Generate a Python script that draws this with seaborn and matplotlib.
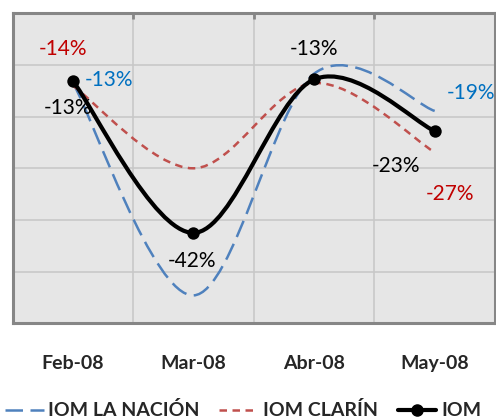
# Índice IOM por diario, feb-may 2008
import numpy as np
import pandas as pd
import matplotlib.pyplot as plt
import seaborn as sns
from matplotlib.path import Path
from matplotlib.patches import PathPatch
from matplotlib.lines import Line2D

# Datos (en %)
meses = ["Feb-08", "Mar-08", "Abr-08", "May-08"]
iom_la_nacion = [-13.4, -54.6, -11.7, -18.9]
iom_clarin = [-14.0, -30.0, -13.5, -26.9]
iom = [-13.1, -42.5, -12.8, -22.8]

etiquetas_nacion = ["-13%", "", "", "-19%"]
etiquetas_clarin = ["-14%", "", "", "-27%"]
etiquetas_iom = ["-13%", "-42%", "-13%", "-23%"]

sns.set_style("white")
plt.rcParams['font.family'] = ['Lato', 'DejaVu Sans']

AZUL = "#4f81bd"
ROJO = "#c0504d"
FONDO = "#e6e6e6"
BORDE = "#868686"


# Curva suavizada tipo Excel (Bezier de Catmull-Rom) a partir de los puntos
def trazo_suave(xs, ys):
    pts = list(zip(xs, ys))
    n = len(pts)
    verts = [pts[0]]
    codes = [Path.MOVETO]
    for i in range(n - 1):
        p0 = pts[max(i - 1, 0)]
        p1 = pts[i]
        p2 = pts[i + 1]
        p3 = pts[min(i + 2, n - 1)]
        c1 = (p1[0] + (p2[0] - p0[0]) / 6, p1[1] + (p2[1] - p0[1]) / 6)
        c2 = (p2[0] - (p3[0] - p1[0]) / 6, p2[1] - (p3[1] - p1[1]) / 6)
        verts += [c1, c2, p2]
        codes += [Path.CURVE4] * 3
    return Path(verts, codes)


df = pd.DataFrame({"mes": meses, "x": range(len(meses)), "IOM": iom})

fig = plt.figure(figsize=(4.96, 4.18), dpi=100)
ax = fig.add_axes([12.5 / 496, 1 - 323.3 / 418, (495 - 12.5) / 496, (323.3 - 13.3) / 418])
ax.set_facecolor(FONDO)

x = np.arange(len(meses))
ax.add_patch(PathPatch(trazo_suave(x, iom_la_nacion), fill=False, edgecolor=AZUL,
                       lw=1.8, linestyle=(0, (7, 3)), capstyle="butt", zorder=3))
ax.add_patch(PathPatch(trazo_suave(x, iom_clarin), fill=False, edgecolor=ROJO,
                       lw=1.8, linestyle=(0, (3, 2.2)), capstyle="butt", zorder=3))
ax.add_patch(PathPatch(trazo_suave(x, iom), fill=False, edgecolor="black",
                       lw=3.0, zorder=4))
sns.scatterplot(data=df, x="x", y="IOM", color="black", s=80, edgecolor="black",
                linewidth=0, zorder=5, ax=ax, legend=False)

# Etiquetas de datos (desplazamientos en píxeles)
desp_nacion = [(36, 3), None, None, (36, 18)]
desp_clarin = [(-10, 37), None, None, (15, -42)]
desp_iom = [(-5, -27), (-1, -28), (0, 30), (-39, -35)]

def etiquetar(vals, textos, desps, color, peso):
    for xi, v, t, d in zip(x, vals, textos, desps):
        if not t:
            continue
        ax.annotate(t, (xi, v), xytext=d, textcoords="offset pixels",
                    ha="center", va="center", color=color, fontsize=15,
                    fontweight=peso, zorder=6)

etiquetar(iom_la_nacion, etiquetas_nacion, desp_nacion, "#0070c0", "normal")
etiquetar(iom_clarin, etiquetas_clarin, desp_clarin, "#c00000", "normal")
etiquetar(iom, etiquetas_iom, desp_iom, "black", "normal")

ax.set_xlim(-0.5, 3.5)
ax.set_ylim(-60, 0)
ax.set_xlabel("")
ax.set_ylabel("")

ax.set_xticks(x)
ax.set_xticklabels(meses, fontsize=14, fontweight="bold")
ax.set_xticks([0.5, 1.5, 2.5], minor=True)
ax.set_yticks([-50, -40, -30, -20, -10])
ax.set_yticklabels([])
ax.tick_params(axis="x", which="major", length=0, pad=23)
ax.tick_params(axis="x", which="minor", top=True, bottom=False, direction="in",
               length=4, width=2, color=BORDE)
ax.tick_params(axis="y", length=0)
ax.grid(True, which="minor", axis="x", color="#c8c8c8", lw=1.2, zorder=1)
ax.grid(True, which="major", axis="y", color="#c8c8c8", lw=1.2, zorder=1)
ax.set_axisbelow(True)
for s in ax.spines.values():
    s.set_color(BORDE)
    s.set_linewidth(2.2)
    s.set_visible(True)

manejadores = [
    Line2D([], [], color=AZUL, lw=1.8, linestyle=(0, (7, 3))),
    Line2D([], [], color=ROJO, lw=1.8, linestyle=(0, (3, 2.2))),
    Line2D([], [], color="black", lw=3.0, marker="o", markersize=8),
]
fig.legend(manejadores, ["IOM LA NACIÓN", "IOM CLARÍN", "IOM"], loc="center",
           bbox_to_anchor=(0.49, 0.018), ncol=3, frameon=False,
           prop={"size": 14, "weight": "bold"}, handlelength=2.0,
           handletextpad=0.25, columnspacing=1.0)

plt.savefig("out.png", dpi=100)
